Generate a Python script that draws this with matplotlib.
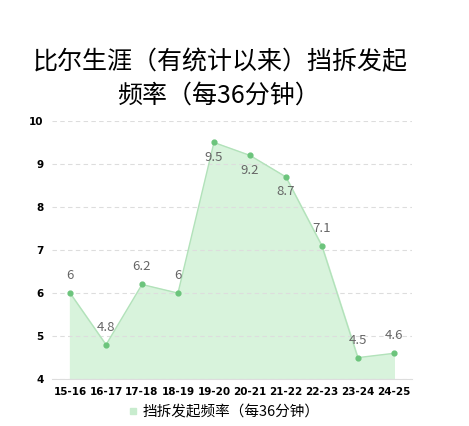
import matplotlib.pyplot as plt
from matplotlib.lines import Line2D

plt.rcParams['font.family'] = ['Noto Sans CJK SC', 'DejaVu Sans']

# 数据
seasons = ['15-16', '16-17', '17-18', '18-19', '19-20', '20-21', '21-22', '22-23', '23-24', '24-25']
freq = [6, 4.8, 6.2, 6, 9.5, 9.2, 8.7, 7.1, 4.5, 4.6]
label_below = [False, False, False, False, True, True, True, False, False, False]
yticks = [4, 5, 6, 7, 8, 9, 10]

x = list(range(len(seasons)))

fig = plt.figure(figsize=(4.69, 4.26), dpi=100)
ax = fig.add_axes([0.111, 0.110, 0.767, 0.606])

ax.fill_between(x, 4, freq, color='#d8f3dc', zorder=1)
ax.plot(x, freq, color='#b2e2ba', lw=1, zorder=2)
ax.scatter(x, freq, color='#6cc47c', s=12, zorder=3)

for xi, v, below in zip(x, freq, label_below):
    lbl = f'{v:g}'
    if below:
        ax.annotate(lbl, (xi, v), xytext=(0, -6), textcoords='offset points',
                    ha='center', va='top', fontsize=9.5, color='#666666')
    else:
        ax.annotate(lbl, (xi, v), xytext=(0, 8), textcoords='offset points',
                    ha='center', va='bottom', fontsize=9.5, color='#666666')

ax.set_xlim(-0.5, len(seasons) - 0.5)
ax.set_ylim(4, 10)
ax.set_xticks(x)
ax.set_xticklabels(seasons, fontsize=7.5, fontweight='bold', family='DejaVu Sans')
ax.set_yticks(yticks)
ax.set_yticklabels([str(t) for t in yticks], fontsize=7.5, fontweight='bold', family='DejaVu Sans')
ax.tick_params(axis='both', length=0, pad=6)
ax.grid(axis='y', color='#dddddd', linestyle=(0, (4, 3)), lw=0.8)
for s in ['top', 'right', 'left']:
    ax.spines[s].set_visible(False)
ax.spines['bottom'].set_color('#dddddd')

fig.text(0.47, 0.855, '比尔生涯（有统计以来）挡拆发起', ha='center', va='center',
         fontsize=18, fontweight='light')
fig.text(0.465, 0.775, '频率（每36分钟）', ha='center', va='center',
         fontsize=18, fontweight='light')

handle = Line2D([], [], marker='s', color='#c8ecce', linestyle='none', markersize=4.5)
fig.legend([handle], ['挡拆发起频率（每36分钟）'], loc='center', bbox_to_anchor=(0.475, 0.032),
           frameon=False, fontsize=10.5, handletextpad=0.2, handlelength=1)

fig.savefig('out.png', dpi=100)
